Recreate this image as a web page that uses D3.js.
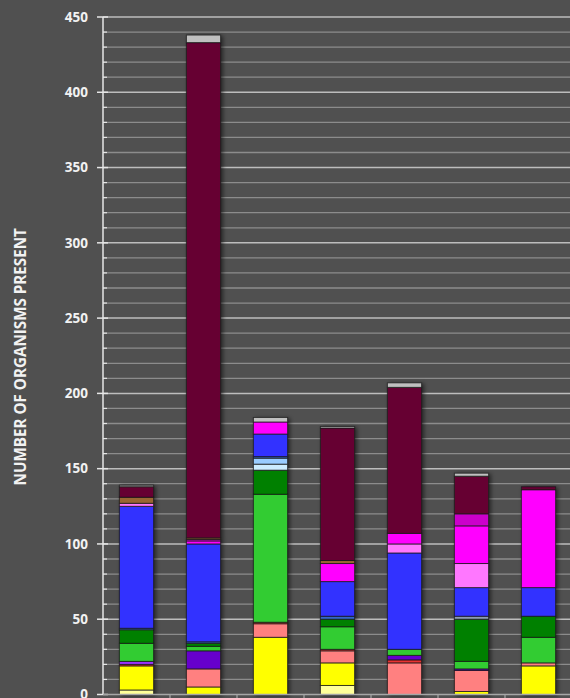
<!DOCTYPE html>
<html>
<head>
<meta charset="utf-8">
<script src="https://cdn.jsdelivr.net/npm/d3@7"></script>
<style>
  html, body { margin: 0; padding: 0; background: #505050; overflow: hidden; }
</style>
</head>
<body>
<div id="chart"></div>
<script>
// sites along the x axis (labels fall below the visible area)
const sites = ["Site 1", "Site 2", "Site 3", "Site 4", "Site 5", "Site 6", "Site 7"];

// stack order, bottom to top
const taxa = ["Taxon 1", "Taxon 2", "Taxon 3", "Taxon 4", "Taxon 5", "Taxon 6", "Taxon 7",
              "Taxon 8", "Taxon 9", "Taxon 10", "Taxon 11", "Taxon 12", "Taxon 13", "Taxon 14",
              "Taxon 15", "Taxon 16", "Taxon 17", "Taxon 18", "Taxon 19"];
const taxaColors = ["#ffff99", "#ffff00", "#ff8080", "#e83030", "#6600cc", "#9933ff", "#33cc33",
                    "#008000", "#8c9cb4", "#ccecff", "#99ccff", "#3366cc", "#3333ff", "#ff77ff",
                    "#ff00ff", "#cc00cc", "#996633", "#660033", "#c0c0c0"];

// counts per taxon, one value per site
const counts = [
  [3, 0, 0, 6, 0, 0, 0],
  [16, 5, 38, 15, 0, 2, 19],
  [0, 12, 9, 8, 21, 14, 2],
  [1, 0, 1, 1, 2, 0, 0],
  [0, 12, 0, 0, 3, 1, 0],
  [2, 0, 0, 0, 0, 0, 0],
  [12, 3, 85, 15, 4, 5, 17],
  [9, 2, 16, 5, 0, 28, 14],
  [0, 0, 0, 0, 0, 2, 0],
  [0, 0, 4, 0, 0, 0, 0],
  [0, 0, 4, 0, 0, 0, 0],
  [1, 1, 1, 2, 0, 0, 0],
  [81, 65, 15, 23, 64, 19, 19],
  [2, 0, 0, 0, 6, 16, 0],
  [0, 2, 8, 12, 7, 25, 65],
  [0, 1, 0, 0, 0, 8, 0],
  [4, 1, 0, 2, 0, 0, 0],
  [7, 329, 0, 88, 97, 25, 2],
  [1, 5, 3, 1, 3, 2, 0]
];

const yTicks = [0, 50, 100, 150, 200, 250, 300, 350, 400, 450];

let width = 570, height = 698;
let svg = d3.select("#chart")
    .append("svg")
    .attr("width", width)
    .attr("height", height);

svg.append("rect").attr("width", width).attr("height", height).attr("fill", "#505050");

let defs = svg.append("defs");
defs.append("filter")
    .attr("id", "shadow")
    .attr("x", "-30%").attr("y", "-5%").attr("width", "160%").attr("height", "110%")
    .append("feDropShadow")
    .attr("dx", 2).attr("dy", 1)
    .attr("stdDeviation", 2)
    .attr("flood-color", "#000")
    .attr("flood-opacity", 0.55);

let plotLeft = 103, plotRight = 572, plotTop = 17, plotBottom = 694.5;

let x = d3.scaleBand()
    .domain(sites)
    .range([plotLeft, plotRight])
    .paddingInner(0.49)
    .paddingOuter(0.245);

let y = d3.scaleLinear()
    .domain([0, 450])
    .range([plotBottom, plotTop]);

// gridlines every 10
let minor = d3.range(10, 451, 10);
svg.append("g").selectAll("line")
    .data(minor)
    .enter().append("line")
    .attr("x1", plotLeft).attr("x2", width)
    .attr("y1", d => y(d)).attr("y2", d => y(d))
    .attr("stroke", d => d % 50 == 0 ? "#bdbdbd" : "#8c8c8c")
    .attr("stroke-width", d => d % 50 == 0 ? 1.5 : 1.3);

// stacked bars
let rows = sites.map((s, i) => {
    let r = {site: s};
    taxa.forEach((t, j) => { r[t] = counts[j][i]; });
    return r;
});
let stack = d3.stack().keys(taxa)(rows);

let barGroups = svg.append("g").selectAll("g")
    .data(sites)
    .enter().append("g")
    .attr("filter", "url(#shadow)");

barGroups.selectAll("rect")
    .data(s => stack.map((layer, j) => ({key: layer.key, color: taxaColors[j], v: layer[sites.indexOf(s)], site: s}))
        .filter(d => d.v[1] - d.v[0] > 0))
    .enter().append("rect")
    .attr("x", d => x(d.site))
    .attr("width", x.bandwidth())
    .attr("y", d => y(d.v[1]))
    .attr("height", d => y(d.v[0]) - y(d.v[1]))
    .attr("fill", d => d.color)
    .attr("stroke", "#1a1a1a")
    .attr("stroke-opacity", 0.75)
    .attr("stroke-width", 1);

// y axis
let yAxis = svg.append("g").attr("transform", `translate(${plotLeft},0)`);
yAxis.append("line")
    .attr("y1", plotTop).attr("y2", plotBottom)
    .attr("stroke", "#e6e6e6").attr("stroke-width", 1.5);
yAxis.selectAll(".minor")
    .data(minor.filter(d => d % 50 != 0))
    .enter().append("line")
    .attr("x1", 0).attr("x2", 4)
    .attr("y1", d => y(d)).attr("y2", d => y(d))
    .attr("stroke", "#e6e6e6").attr("stroke-width", 1.2);
yAxis.selectAll(".major")
    .data(yTicks)
    .enter().append("line")
    .attr("x1", -6).attr("x2", 5)
    .attr("y1", d => y(d)).attr("y2", d => y(d))
    .attr("stroke", "#e6e6e6").attr("stroke-width", 1.5);
yAxis.selectAll("text")
    .data(yTicks)
    .enter().append("text")
    .attr("x", -15)
    .attr("y", d => y(d))
    .attr("dy", "0.35em")
    .style("text-anchor", "end")
    .style("font-family", "Open Sans, sans-serif")
    .style("font-weight", "bold")
    .style("font-size", 13.5)
    .attr("fill", "#f2f2f2")
    .text(d => d);

// x axis line and category ticks
let xAxis = svg.append("g").attr("transform", `translate(0,${plotBottom})`);
xAxis.append("line")
    .attr("x1", plotLeft).attr("x2", width)
    .attr("stroke", "#a6a6a6").attr("stroke-width", 1.5);
xAxis.selectAll("line.tick")
    .data(sites.slice(1))
    .enter().append("line")
    .attr("class", "tick")
    .attr("x1", d => x(d) - x.step() * x.paddingInner() / 2)
    .attr("x2", d => x(d) - x.step() * x.paddingInner() / 2)
    .attr("y1", 0).attr("y2", 5)
    .attr("stroke", "#a6a6a6").attr("stroke-width", 1.2);

// y title
svg.append("text")
    .attr("transform", `translate(26,${(plotTop + plotBottom) / 2 + 1}) rotate(-90)`)
    .style("text-anchor", "middle")
    .style("font-family", "Open Sans, sans-serif")
    .style("font-weight", "bold")
    .style("font-size", 15.2)
    .attr("fill", "#f2f2f2")
    .text("NUMBER OF ORGANISMS PRESENT");
</script>
</body>
</html>
